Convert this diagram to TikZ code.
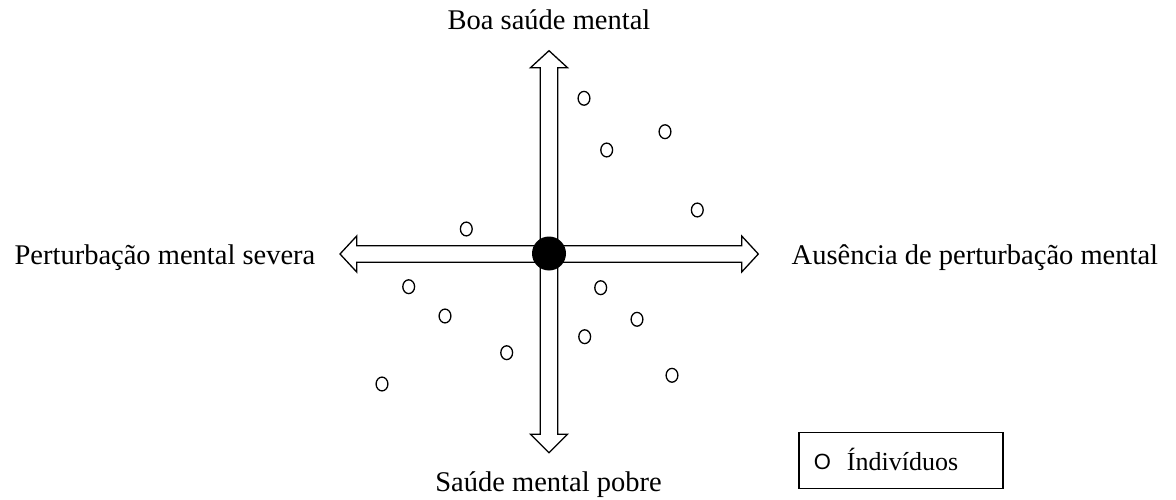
\documentclass[tikz,border=0pt]{standalone}
\usepackage{fontspec}
\setmainfont{Liberation Serif}
\newfontfamily\legendsans{Liberation Sans}
\begin{document}
\begin{tikzpicture}[x=1pt,y=-1pt,
  axisarrow/.style={draw=black,fill=white,line width=1.3pt,line join=miter},
  label/.style={inner sep=0pt,font=\fontsize{28.5}{30}\selectfont},
  person/.style={draw=black,line width=1.3pt,ellipse,minimum width=0pt,inner sep=0pt},
]
\useasboundingbox (0,0) rectangle (1176,500);

% horizontal double arrow (severity of mental disorder)
\coordinate (hl) at (340,254);
\coordinate (hr) at (758.3,254);
\draw[axisarrow] (hl) -- (356.7,236) -- (356.7,245.7) -- (741.7,245.7) -- (741.7,236)
  -- (hr) -- (741.7,272) -- (741.7,262.3) -- (356.7,262.3) -- (356.7,272) -- cycle;

% vertical double arrow (level of mental health)
\coordinate (vt) at (549,50.7);
\coordinate (vb) at (549,452.7);
\draw[axisarrow] (vt) -- (567.5,67.7) -- (557.8,67.7) -- (557.8,434.3) -- (567.5,434.3)
  -- (vb) -- (530.5,434.3) -- (540.2,434.3) -- (540.2,67.7) -- (530.5,67.7) -- cycle;

% origin
\node[circle,fill=black,minimum size=34pt,inner sep=0pt] (origin) at (549,253.5) {};

% axis labels
\node[label,anchor=base] (top) at (549,30) {Boa saúde mental};
\node[label,anchor=base] (bottom) at (548.5,491) {Saúde mental pobre};
\node[label,anchor=base east] (left) at (315.5,264) {Perturbação mental severa};
\node[label,anchor=base west] (right) at (791.5,264) {Ausência de perturbação mental};

% individuals
\foreach \n/\px/\py in {p1/584/98.3, p2/665/131.7, p3/606.7/150, p4/697.3/210,
  p5/466.3/229, p6/408.7/286.7, p7/600.7/287.7, p8/445/316, p9/637/319.3,
  p10/584.7/336.7, p11/506.7/352.7, p12/672/375.3, p13/382/384}
  \draw[line width=1.3pt] (\px,\py) ellipse [x radius=5.9pt, y radius=6.9pt];

% legend
\node[draw=black,line width=1.5pt,minimum width=204pt,minimum height=56pt,inner sep=0pt] (legend) at (901,460.3) {};
\node[inner sep=0pt,font=\legendsans\fontsize{22}{24}\selectfont] (legendmark) at (822.5,461.5) {O};
\node[inner sep=0pt,anchor=base west,font=\fontsize{26}{28}\selectfont] (legendtext) at (846.7,470) {Índivíduos};
\end{tikzpicture}
\end{document}
